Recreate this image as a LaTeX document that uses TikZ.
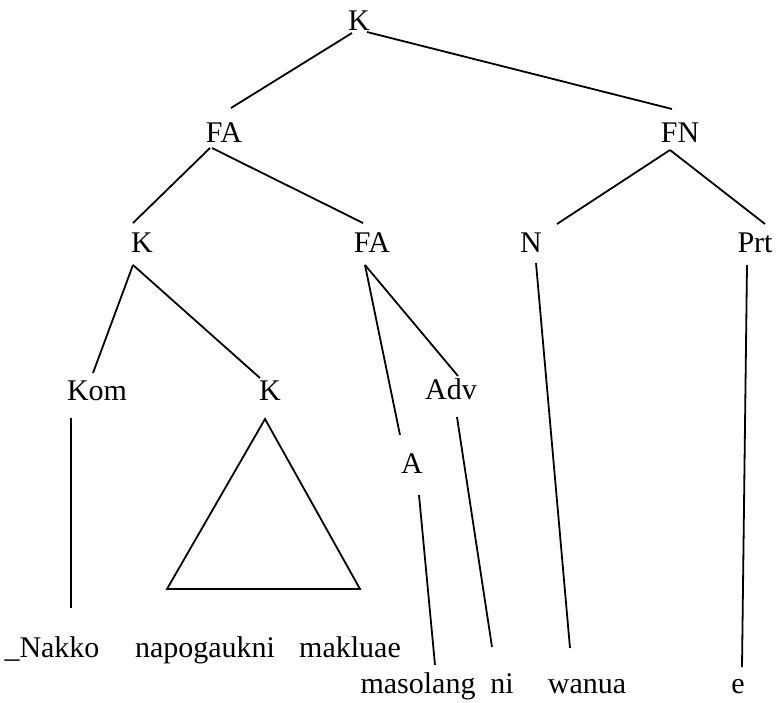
\documentclass[tikz,border=0pt]{standalone}
\usepackage{fontspec}
\setmainfont{Liberation Serif}
\tikzset{
  cat/.style={inner sep=0pt, outer sep=0pt, anchor=base, font=\fontsize{15}{18}\selectfont},
  word/.style={cat},
  branch/.style={line width=0.9pt}
}
\begin{document}
\begin{tikzpicture}[x=0.5pt,y=-0.5pt]
\useasboundingbox (0,0) rectangle (777,702);
% categories
\node[cat] (root) at (359,30) {K};
\node[cat] (fa) at (224,142) {FA};
\node[cat] (fn) at (680,142) {FN};
\node[cat] (kbar) at (142,252) {K};
\node[cat] (fa2) at (372,252) {FA};
\node[cat] (n) at (531,252) {N};
\node[cat] (prt) at (755,252) {Prt};
\node[cat] (kom) at (97,400) {Kom};
\node[cat] (k2) at (270,400) {K};
\node[cat] (adv) at (451,399) {Adv};
\node[cat] (a) at (412,473) {A};

% words
\node[word] (nakko) at (52,657) {\_Nakko};
\node[word] (napogaukni) at (205,657) {napogaukni};
\node[word] (makluae) at (350,657) {makluae};
\node[word] (masolang) at (418,693) {masolang};
\node[word] (ni) at (502,693) {ni};
\node[word] (wanua) at (587,693) {wanua};
\node[word] (e) at (738,693) {e};

% branches
\draw[branch] ([shift={(-7,3)}]root.base) -- ([shift={(7,-34)}]fa.base);
\draw[branch] ([shift={(8,2)}]root.base) -- ([shift={(-8,-33)}]fn.base);
\draw[branch] ([shift={(-14,6)}]fa.base) -- ([shift={(-9,-29)}]kbar.base);
\draw[branch] ([shift={(-12,6)}]fa.base) -- ([shift={(-9,-29)}]fa2.base);
\draw[branch] ([shift={(-10,8)}]fn.base) -- ([shift={(26,-28)}]n.base);
\draw[branch] ([shift={(-10,8)}]fn.base) -- ([shift={(10,-28)}]prt.base);
\draw[branch] ([shift={(-9,13)}]kbar.base) -- ([shift={(-4,-27)}]kom.base);
\draw[branch] ([shift={(-9,13)}]kbar.base) -- ([shift={(-10,-22)}]k2.base);
\draw[branch] ([shift={(-7,13)}]fa2.base) -- ([shift={(-12,-38)}]a.base);
\draw[branch] ([shift={(-7,13)}]fa2.base) -- ([shift={(7,-23)}]adv.base);
\draw[branch] ([shift={(5,11)}]n.base) -- ([shift={(-17,-45)}]wanua.base);
\draw[branch] ([shift={(-8,13)}]prt.base) -- ([shift={(4,-26)}]e.base);
\draw[branch] ([shift={(-26,18)}]kom.base) -- ([shift={(19,-49)}]nakko.base);
\draw[branch] ([shift={(7,22)}]a.base) -- ([shift={(17,-28)}]masolang.base);
\draw[branch] ([shift={(6,18)}]adv.base) -- ([shift={(-10,-46)}]ni.base);
% triangle over the clause
\draw[branch, line join=miter] ([shift={(-5,19)}]k2.base) -- ([shift={(-103,189)}]k2.base)
  -- ([shift={(90,189)}]k2.base) -- cycle;
\end{tikzpicture}
\end{document}
